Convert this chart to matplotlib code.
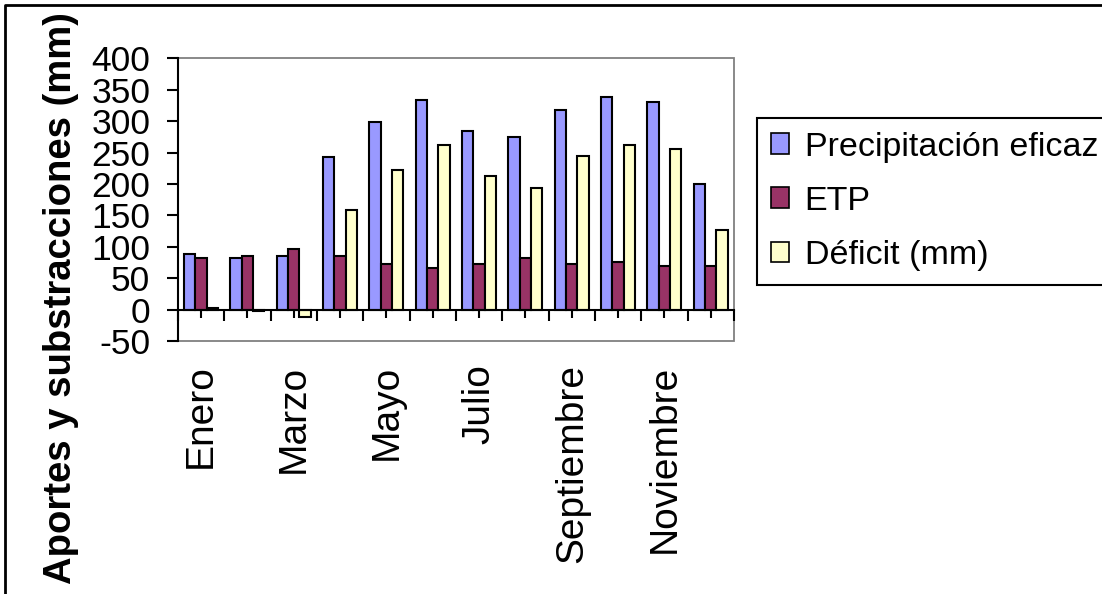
import numpy as np
import matplotlib
matplotlib.use("Agg")
import matplotlib.pyplot as plt
from matplotlib.patches import Patch, Rectangle
from matplotlib.lines import Line2D

# monthly water balance values (mm)
months = ["Enero", "Febrero", "Marzo", "Abril", "Mayo", "Junio", "Julio",
          "Agosto", "Septiembre", "Octubre", "Noviembre", "Diciembre"]
precipitacion = [88, 82, 85, 243, 298, 333, 285, 275, 317, 339, 330, 200]
etp = [82, 85, 97, 85, 72, 66, 72, 82, 72, 75, 70, 70]
deficit = [3, -3, -12, 158, 222, 262, 212, 193, 244, 262, 256, 127]

series_names = ["Precipitación eficaz", "ETP", "Déficit (mm)"]
colors = ["#9999FF", "#993366", "#FFFFCC"]
yticks = list(range(-50, 401, 50))

plt.rcParams['font.family'] = ['Liberation Sans', 'DejaVu Sans']

fig = plt.figure(figsize=(11.02, 5.94), dpi=100)
ax = fig.add_axes([0.1615, 0.4259, 0.5045, 0.4759])

x = np.arange(len(months))
w = 0.245
for i, (vals, col) in enumerate(zip([precipitacion, etp, deficit], colors)):
    ax.bar(x + (i - 1) * w, vals, width=w, color=col, edgecolor="black",
           linewidth=1.5, zorder=2)

ax.set_xlim(-0.5, len(months) - 0.5)
ax.set_ylim(-50, 400)
ax.set_yticks(yticks)
ax.set_yticklabels([str(t) for t in yticks], fontsize=25.5)
ax.tick_params(axis="y", direction="out", length=8, width=1.5, pad=12)

# x axis sits on zero line
ax.spines["bottom"].set_position(("data", 0))
ax.spines["bottom"].set_linewidth(1.5)
ax.spines["bottom"].set_zorder(3)
ax.spines["left"].set_linewidth(1.5)
ax.spines["top"].set_visible(False)
ax.spines["right"].set_visible(False)
ax.add_patch(Rectangle((0, 0), 1, 1, transform=ax.transAxes, fill=False,
                       edgecolor="#808080", linewidth=1.3, zorder=1, clip_on=False))

ax.set_xticks(np.arange(len(months) + 1) - 0.5)
ax.set_xticklabels([])
ax.tick_params(axis="x", which="major", direction="out", length=8, width=1.5)
ax.set_xticks(x, minor=True)
ax.set_xticklabels([m if k % 2 == 0 else "" for k, m in enumerate(months)],
                   minor=True, rotation=90, fontsize=28)
ax.tick_params(axis="x", which="minor", direction="out", length=5.5, width=1.5, pad=34)

fig.text(0.0555, 0.4975, "Aportes y substracciones (mm)", rotation=90,
         ha="center", va="center", fontsize=27.5, fontweight="bold")

handles = [Patch(facecolor=c, edgecolor="black", linewidth=1.2) for c in colors]
leg = ax.legend(handles, series_names, loc="upper left",
                bbox_to_anchor=(757 / 1102, 1 - 118 / 594), bbox_transform=fig.transFigure,
                fontsize=24.5, frameon=True, fancybox=False, borderaxespad=0,
                borderpad=0.4, handlelength=0.55, handleheight=0.55,
                handletextpad=0.45, labelspacing=0.68)
leg.get_frame().set_edgecolor("black")
leg.get_frame().set_linewidth(1.5)
leg.get_frame().set_alpha(None)

# outer chart border (top and left visible)
fig.add_artist(Line2D([5 / 1102, 5 / 1102, 1], [0, 1 - 5 / 594, 1 - 5 / 594],
                      transform=fig.transFigure, color="black", linewidth=2))

fig.savefig("out.png", dpi=100)
